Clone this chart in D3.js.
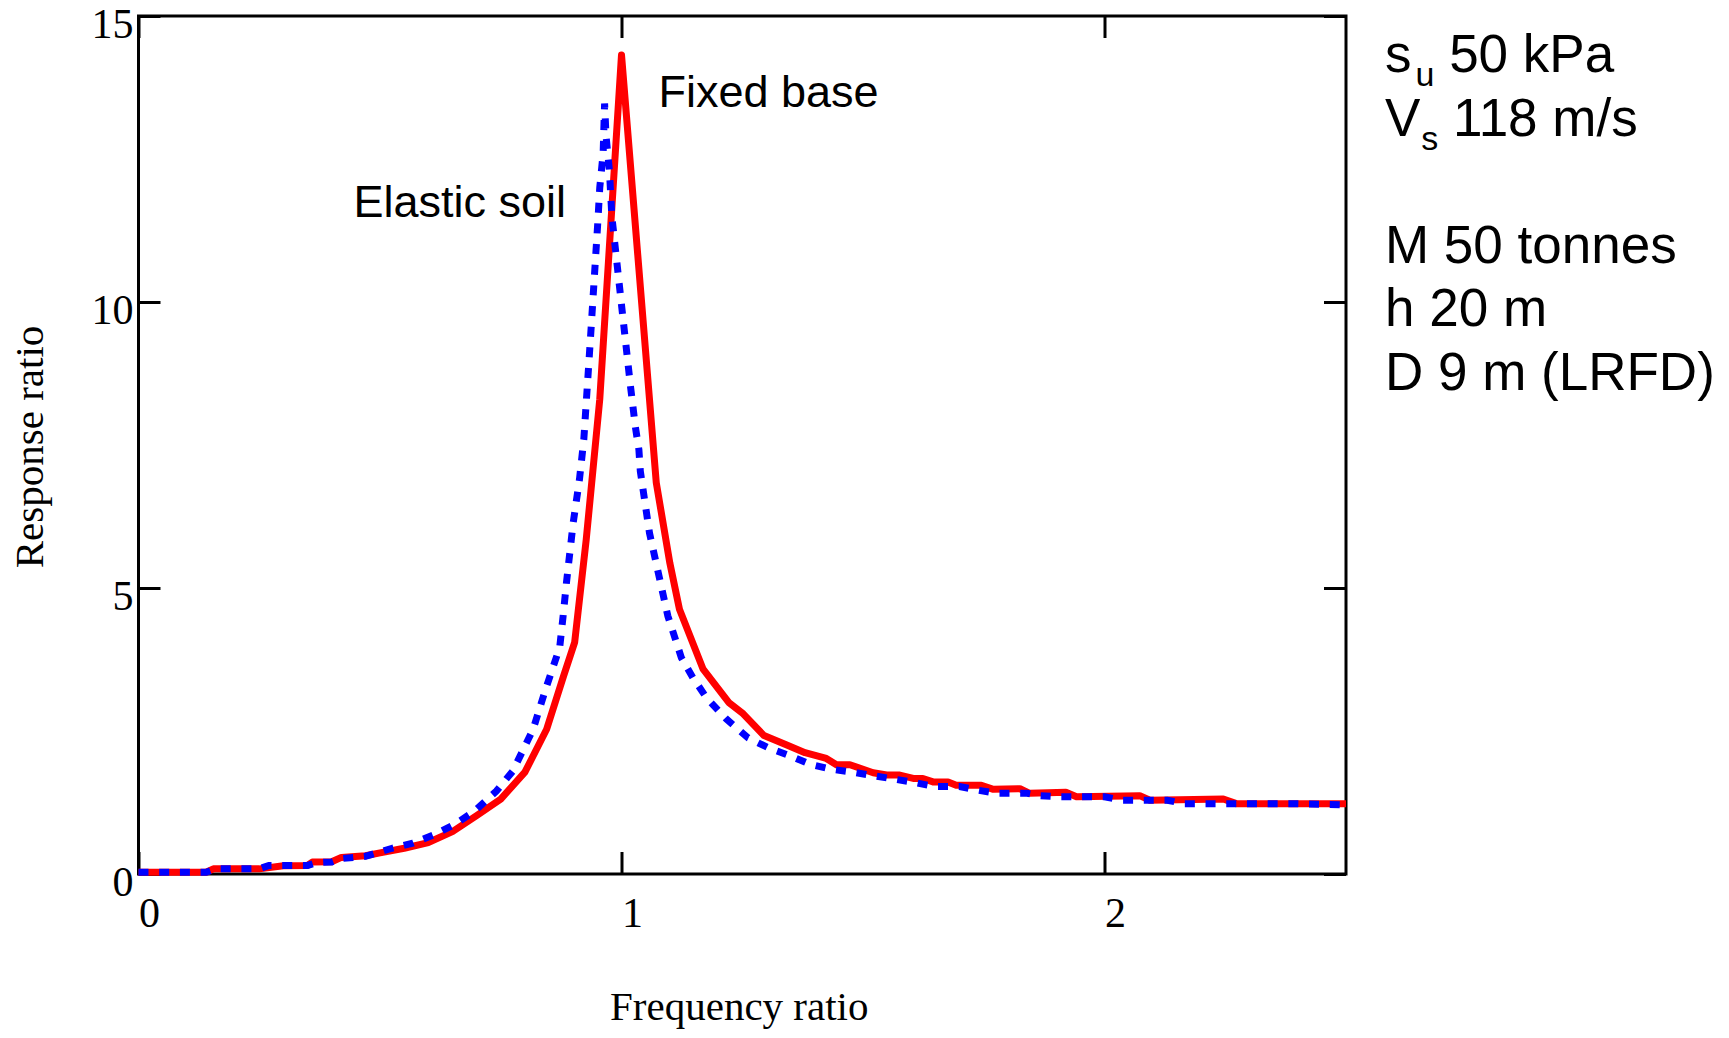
<!DOCTYPE html>
<html>
<head>
<meta charset="utf-8">
<script src="https://cdn.jsdelivr.net/npm/d3@7"></script>
<style>
  html, body { margin: 0; padding: 0; background: #fff; }
  svg { display: block; }
  .tick-label { font-family: "Liberation Serif", "Times New Roman", serif; font-size: 42px; fill: #000; }
  .axis-title { font-family: "Liberation Serif", "Times New Roman", serif; font-size: 41px; fill: #000; }
  .note { font-family: "Liberation Sans", Arial, sans-serif; fill: #000; }
</style>
</head>
<body>
<svg id="chart"></svg>
<script>
// Fixed base response (red, solid)
const fixedBaseX = [0, 0.14, 0.155, 0.25, 0.30, 0.35, 0.36, 0.40, 0.42, 0.47, 0.50, 0.55, 0.60, 0.65, 0.70,
  0.75, 0.80, 0.845, 0.88, 0.903, 0.927, 0.955, 1.0, 1.072, 1.10, 1.12, 1.169, 1.222, 1.252, 1.295,
  1.341, 1.38, 1.424, 1.445, 1.473, 1.521, 1.549, 1.576, 1.604, 1.624, 1.645, 1.676, 1.693, 1.745,
  1.77, 1.825, 1.845, 1.92, 1.942, 2.073, 2.094, 2.246, 2.273, 2.5]
const fixedBaseY = [0.03, 0.03, 0.09, 0.09, 0.145, 0.15, 0.21, 0.215, 0.29, 0.32, 0.37, 0.45, 0.55, 0.74, 1.02,
  1.31, 1.78, 2.53, 3.46, 4.05, 5.85, 8.3, 14.32, 6.84, 5.44, 4.63, 3.58, 3.0, 2.8, 2.42,
  2.26, 2.12, 2.02, 1.91, 1.91, 1.77, 1.73, 1.73, 1.67, 1.67, 1.61, 1.61, 1.55, 1.55,
  1.48, 1.49, 1.41, 1.43, 1.35, 1.37, 1.29, 1.31, 1.23, 1.23]

// Elastic soil response (blue, dotted)
const elasticSoilX = [0, 0.14, 0.16, 0.25, 0.27, 0.35, 0.37, 0.40, 0.42, 0.47, 0.525, 0.568, 0.61, 0.655,
  0.696, 0.741, 0.775, 0.817, 0.844, 0.872, 0.879, 0.886, 0.90, 0.913, 0.922, 0.936, 0.951, 0.955,
  0.962, 0.965, 0.968, 0.975, 0.98, 1.0, 1.019, 1.029, 1.036, 1.039, 1.058, 1.086, 1.096, 1.124,
  1.148, 1.176, 1.217, 1.262, 1.303, 1.348, 1.39, 1.435, 1.48, 1.521, 1.563, 1.607, 1.648, 1.70,
  1.735, 1.777, 1.84, 1.865, 1.907, 2.0, 2.035, 2.13, 2.165, 2.4, 2.5]
const elasticSoilY = [0.03, 0.03, 0.09, 0.09, 0.15, 0.15, 0.2, 0.21, 0.27, 0.31, 0.45, 0.54, 0.68, 0.87,
  1.10, 1.45, 1.80, 2.53, 3.26, 3.96, 4.5, 5.09, 6.14, 6.9, 7.6, 9.4, 11.4, 12.0,
  12.6, 13.47, 12.9, 12.3, 11.5, 9.95, 8.5, 7.8, 7.42, 7.04, 5.96, 4.89, 4.51, 3.78,
  3.43, 3.08, 2.71, 2.38, 2.21, 2.07, 1.92, 1.83, 1.78, 1.72, 1.66, 1.60, 1.53, 1.53,
  1.47, 1.41, 1.41, 1.37, 1.35, 1.35, 1.29, 1.29, 1.23, 1.23, 1.21]

const xTicks = [0, 1, 2]
const yTicks = [0, 5, 10, 15]

// Parameter notes on the right: [main, subscript, rest]
const notes = [
  ["s", "u", " 50 kPa"],
  ["V", "s", " 118 m/s"],
  null,
  ["M 50 tonnes", "", ""],
  ["h 20 m", "", ""],
  ["D 9 m (LRFD)", "", ""]
]

const W = 1729, H = 1038
const margin = { top: 16, left: 138.5 }
const width = 1207.5, height = 858

const svg = d3.select("#chart").attr("width", W).attr("height", H)
const g = svg.append("g").attr("transform", `translate(${margin.left},${margin.top})`)

const x = d3.scaleLinear().domain([0, 2.5]).range([0, width])
const y = d3.scaleLinear().domain([0, 15]).range([height, 0])

// Inward ticks on all four sides
const tickLen = 22
const axisStyle = sel => {
  sel.select(".domain").remove()
  sel.selectAll(".tick line").attr("stroke", "#000").attr("stroke-width", 3)
}

const bottom = g.append("g").attr("transform", `translate(0,${height})`)
  .call(d3.axisBottom(x).tickValues(xTicks).tickSize(-tickLen).tickFormat(d3.format("d")))
  .call(axisStyle)
bottom.selectAll("text")
  .attr("class", "tick-label")
  .attr("text-anchor", "start")
  .attr("x", 0).attr("y", 38).attr("dy", "0.35em")
  .attr("font-size", null).attr("font-family", null).attr("fill", null)

g.append("g").call(d3.axisTop(x).tickValues(xTicks).tickSize(-tickLen).tickFormat(""))
  .call(axisStyle)

const left = g.append("g")
  .call(d3.axisLeft(y).tickValues(yTicks).tickSize(-tickLen).tickPadding(6).tickFormat(d3.format("d")))
  .call(axisStyle)
left.selectAll("text")
  .attr("class", "tick-label")
  .attr("x", -5).attr("y", 8).attr("dy", "0.32em")
  .attr("font-size", null).attr("font-family", null).attr("fill", null)

g.append("g").attr("transform", `translate(${width},0)`)
  .call(d3.axisRight(y).tickValues(yTicks).tickSize(-tickLen).tickFormat(""))
  .call(axisStyle)

// Plot frame
g.append("rect")
  .attr("x", 0).attr("y", 0).attr("width", width).attr("height", height)
  .attr("fill", "none").attr("stroke", "#000").attr("stroke-width", 3)

// Curves
const line = d3.line().x(d => x(d[0])).y(d => y(d[1]))
const fixedData = fixedBaseX.map((v, i) => [v, fixedBaseY[i]])
const elasticData = elasticSoilX.map((v, i) => [v, elasticSoilY[i]])

g.append("path").datum(fixedData)
  .attr("d", line)
  .attr("fill", "none").attr("stroke", "#ff0000").attr("stroke-width", 7)
  .attr("stroke-linejoin", "round")

g.append("path").datum(elasticData)
  .attr("d", line)
  .attr("fill", "none").attr("stroke", "#0000ff").attr("stroke-width", 7)
  .attr("stroke-dasharray", "10,10.7")

// Curve labels
g.append("text").attr("class", "note").attr("font-size", 45)
  .attr("x", x(1.0) + 37).attr("y", y(13.5) + 5).text("Fixed base")
g.append("text").attr("class", "note").attr("font-size", 45)
  .attr("x", x(0.445)).attr("y", y(11.45) - 2).text("Elastic soil")

// Axis titles
svg.append("text").attr("class", "axis-title")
  .attr("text-anchor", "middle")
  .attr("x", margin.left + x(1.25) - 3).attr("y", 1020)
  .text("Frequency ratio")

svg.append("text").attr("class", "axis-title")
  .attr("text-anchor", "middle")
  .attr("transform", `translate(43,${margin.top + height / 2 + 2}) rotate(-90)`)
  .text("Response ratio")

// Parameter notes
const noteX = 1385
notes.forEach((n, i) => {
  if (!n) return
  const t = svg.append("text").attr("class", "note").attr("font-size", 53)
    .attr("x", noteX).attr("y", 72 + i * 63.5)
  t.append("tspan").text(n[0])
  if (n[1]) {
    t.append("tspan").attr("font-size", 34).attr("dx", n[1] === "u" ? 4 : 1).attr("dy", 14).text(n[1])
    t.append("tspan").attr("dy", -14).text(n[2])
  }
})
</script>
</body>
</html>
